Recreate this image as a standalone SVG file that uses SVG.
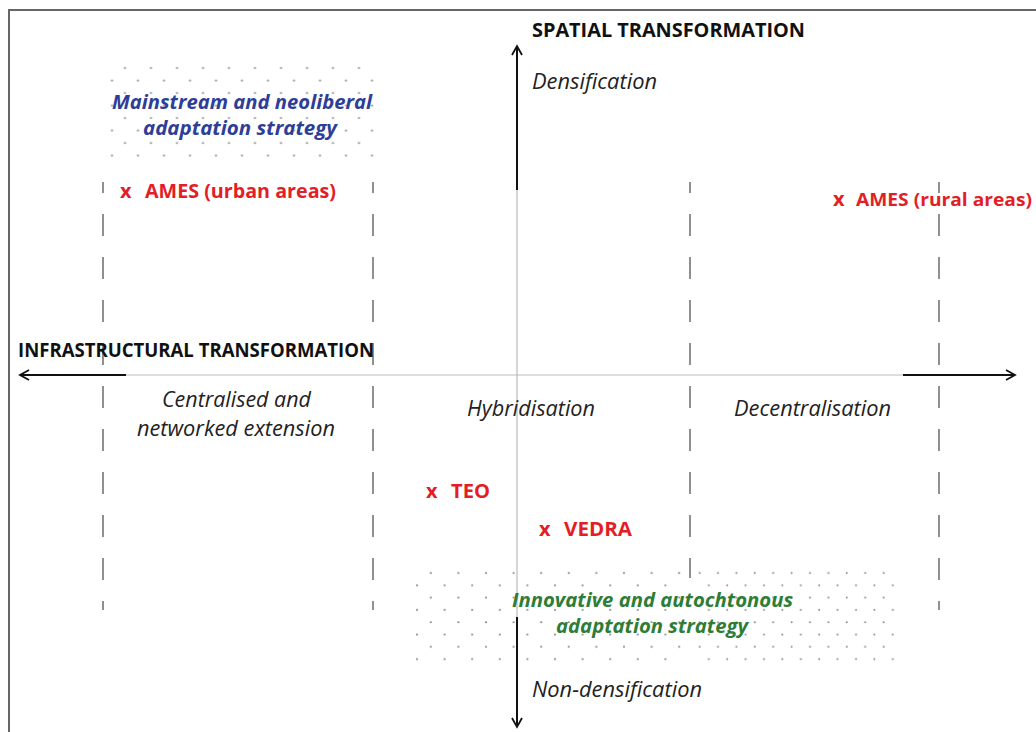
<svg xmlns="http://www.w3.org/2000/svg" width="1036" height="732" viewBox="0 0 1036 732">
<style>
.title{font-family:"Open Sans","Noto Sans",sans-serif;font-weight:bold;font-size:19px;fill:#111}
.lab{font-family:"Open Sans","Noto Sans",sans-serif;font-style:italic;font-size:21px;fill:#222}
.red{font-family:"Open Sans","Noto Sans",sans-serif;font-weight:bold;font-size:20px;fill:#E31E26}
.blue{font-family:"Open Sans","Noto Sans",sans-serif;font-weight:bold;font-style:italic;font-size:20px;fill:#2E3E98}
.green{font-family:"Open Sans","Noto Sans",sans-serif;font-weight:bold;font-style:italic;font-size:20px;fill:#2E7D36}
.dash{stroke:#555;stroke-width:1.3;fill:none;stroke-dasharray:22 21;stroke-dashoffset:11}
.thin{stroke:#bbb;stroke-width:1.2;fill:none}
.axis{stroke:#111;stroke-width:2;fill:none}
.dot{fill:#888}
</style>
<defs>
<pattern id="dotsA" patternUnits="userSpaceOnUse" x="105.5" y="61.75" width="26" height="25">
<circle class="dot" cx="19.5" cy="6.25" r="1.1"/>
<circle class="dot" cx="6.5" cy="18.75" r="1.1"/>
</pattern>
<pattern id="dotsB" patternUnits="userSpaceOnUse" x="410.1" y="566.85" width="27.6" height="24.6">
<circle class="dot" cx="20.7" cy="6.15" r="1.1"/>
<circle class="dot" cx="6.9" cy="18.45" r="1.1"/>
</pattern>
<pattern id="dotsC" patternUnits="userSpaceOnUse" x="695" y="566.85" width="18.4" height="24.6">
<circle class="dot" cx="4.6" cy="6.15" r="1"/>
<circle class="dot" cx="13.8" cy="18.45" r="1"/>
</pattern>
<marker id="arr" markerWidth="12" markerHeight="12" refX="10" refY="6" orient="auto" markerUnits="userSpaceOnUse">
<path d="M1,1 L10,6 L1,11" fill="none" stroke="#111" stroke-width="1.8"/>
</marker>
</defs>
<rect width="1036" height="732" fill="#fff"/>
<path d="M9,732 V10 H1036" fill="none" stroke="#666" stroke-width="2"/>

<g id="strategy-areas">
<rect x="108" y="64" width="267" height="95" fill="url(#dotsA)"/>
<rect x="412" y="568" width="278" height="94" fill="url(#dotsB)"/>
<rect x="695" y="568" width="200" height="94" fill="url(#dotsC)"/>
</g>

<g id="connectors">
<line class="dash" x1="103" y1="182" x2="103" y2="610"/>
<line class="dash" x1="373" y1="182" x2="373" y2="610"/>
<line class="dash" x1="690" y1="182" x2="690" y2="578"/>
<line class="dash" x1="939" y1="182" x2="939" y2="610"/>
<line class="thin" x1="517" y1="46" x2="517" y2="727"/>
<line class="thin" x1="19" y1="375" x2="1015" y2="375"/>
<line class="axis" x1="517" y1="190" x2="517" y2="46" marker-end="url(#arr)"/>
<line class="axis" x1="517" y1="617" x2="517" y2="727" marker-end="url(#arr)"/>
<line class="axis" x1="126" y1="375" x2="20" y2="375" marker-end="url(#arr)"/>
<line class="axis" x1="903" y1="375" x2="1015" y2="375" marker-end="url(#arr)"/>
</g>

<g id="axis-titles">
<text class="title" x="532" y="37" textLength="273" lengthAdjust="spacingAndGlyphs">SPATIAL TRANSFORMATION</text>
<text class="title" x="18" y="357" textLength="356" lengthAdjust="spacingAndGlyphs">INFRASTRUCTURAL TRANSFORMATION</text>
</g>

<g id="axis-labels">
<text class="lab" x="532" y="89" textLength="125" lengthAdjust="spacingAndGlyphs">Densification</text>
<text class="lab" x="532" y="697" textLength="170" lengthAdjust="spacingAndGlyphs">Non-densification</text>
<text class="lab" x="162" y="407" textLength="149" lengthAdjust="spacingAndGlyphs">Centralised and</text>
<text class="lab" x="137" y="436" textLength="198" lengthAdjust="spacingAndGlyphs">networked extension</text>
<text class="lab" x="467" y="416" textLength="128" lengthAdjust="spacingAndGlyphs">Hybridisation</text>
<text class="lab" x="734" y="416" textLength="157" lengthAdjust="spacingAndGlyphs">Decentralisation</text>
</g>

<g id="mainstream-strategy">
<text class="blue" x="112" y="109" textLength="260" lengthAdjust="spacingAndGlyphs">Mainstream and neoliberal</text>
<text class="blue" x="143" y="135" textLength="194" lengthAdjust="spacingAndGlyphs">adaptation strategy</text>
</g>

<g id="innovative-strategy">
<text class="green" x="512" y="607" textLength="281" lengthAdjust="spacingAndGlyphs">Innovative and autochtonous</text>
<text class="green" x="556" y="633" textLength="192" lengthAdjust="spacingAndGlyphs">adaptation strategy</text>
</g>

<g id="case-ames-urban">
<text class="red" x="120" y="198">x</text>
<text class="red" x="145" y="198" textLength="191" lengthAdjust="spacingAndGlyphs">AMES (urban areas)</text>
</g>
<g id="case-ames-rural">
<text class="red" x="833" y="206">x</text>
<text class="red" x="856" y="206" style="font-size:18.5px" textLength="176" lengthAdjust="spacingAndGlyphs">AMES (rural areas)</text>
</g>
<g id="case-teo">
<text class="red" x="426" y="498">x</text>
<text class="red" x="451" y="498" textLength="39" lengthAdjust="spacingAndGlyphs">TEO</text>
</g>
<g id="case-vedra">
<text class="red" x="539" y="536">x</text>
<text class="red" x="564" y="536" textLength="68" lengthAdjust="spacingAndGlyphs">VEDRA</text>
</g>
</svg>
